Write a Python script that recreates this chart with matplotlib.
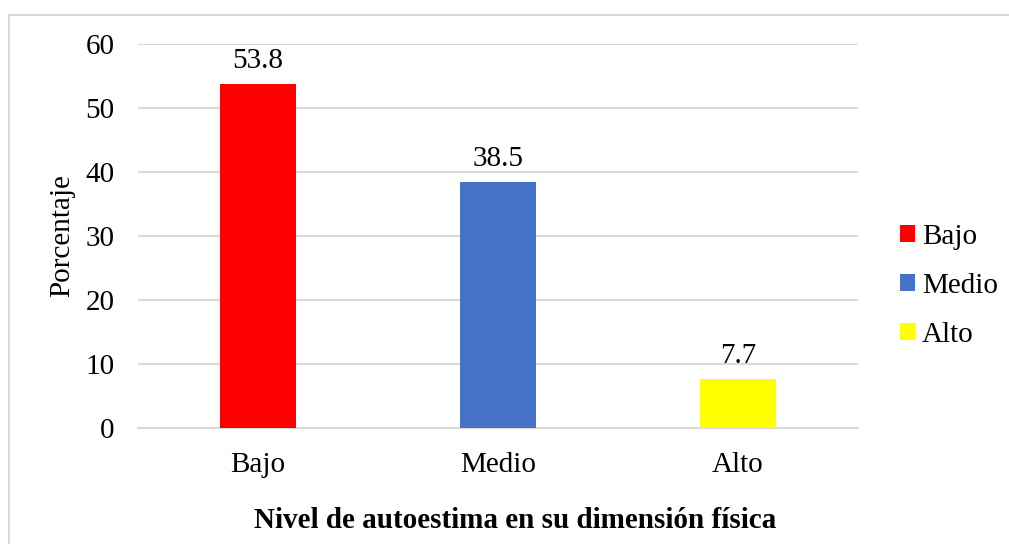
import matplotlib
matplotlib.use("Agg")
import matplotlib.pyplot as plt
from matplotlib.patches import Rectangle, Patch

categories = ["Bajo", "Medio", "Alto"]
values = [53.8, 38.5, 7.7]
colors = ["#FF0000", "#4472C4", "#FFFF00"]
yticks = [0, 10, 20, 30, 40, 50, 60]

plt.rcParams['font.family'] = ['Liberation Serif', 'DejaVu Serif']
FS = 21

W, H = 1009, 544
fig = plt.figure(figsize=(W/100, H/100), dpi=100)
fig.patch.set_facecolor("white")

# outer chart border (right and bottom edges fall outside the image)
fig.add_artist(Rectangle((9/W, -0.05), 1.05, 1.05 - 15/H, transform=fig.transFigure,
                         fill=False, edgecolor="#D9D9D9", linewidth=1.5))

ax = fig.add_axes([138/W, 1 - 428/H, (858-138)/W, (428-44)/H])
x = range(len(categories))
bars = ax.bar(x, values, width=0.317, color=colors, zorder=3)
ax.set_xlim(-0.5, 2.5)
ax.set_ylim(0, 60)
ax.set_yticks(yticks)
ax.set_xticks(list(x))
ax.set_xticklabels(categories)
ax.tick_params(axis='both', length=0, labelsize=FS, colors="black")
ax.tick_params(axis='y', pad=17)
ax.tick_params(axis='x', pad=17)
ax.yaxis.grid(True, color="#D9D9D9", linewidth=1.5, zorder=0)
for s in ["top", "right", "left"]:
    ax.spines[s].set_visible(False)
ax.spines["bottom"].set_color("#D9D9D9")
ax.spines["bottom"].set_linewidth(1.5)

for b, v in zip(bars, values):
    ax.annotate(f"{v}", (b.get_x() + b.get_width()/2, v), xytext=(0, 7),
                textcoords="offset points", ha="center", va="bottom", fontsize=FS)

fig.text(62/W, 1 - 236/H, "Porcentaje", rotation=90, ha="center", va="center", fontsize=FS)
fig.text(515/W, 1 - 520/H, "Nivel de autoestima en su dimensión física", ha="center",
         va="center", fontsize=FS, fontweight="bold")

handles = [Patch(facecolor=c, edgecolor="none") for c in colors]
leg = fig.legend(handles, categories, loc="center left", bbox_to_anchor=(888/W, 1 - 286/H),
                 frameon=False, fontsize=FS, handlelength=0.52, handleheight=0.52,
                 handletextpad=0.25, labelspacing=0.8, borderaxespad=0)

fig.savefig("out.png", dpi=100)
